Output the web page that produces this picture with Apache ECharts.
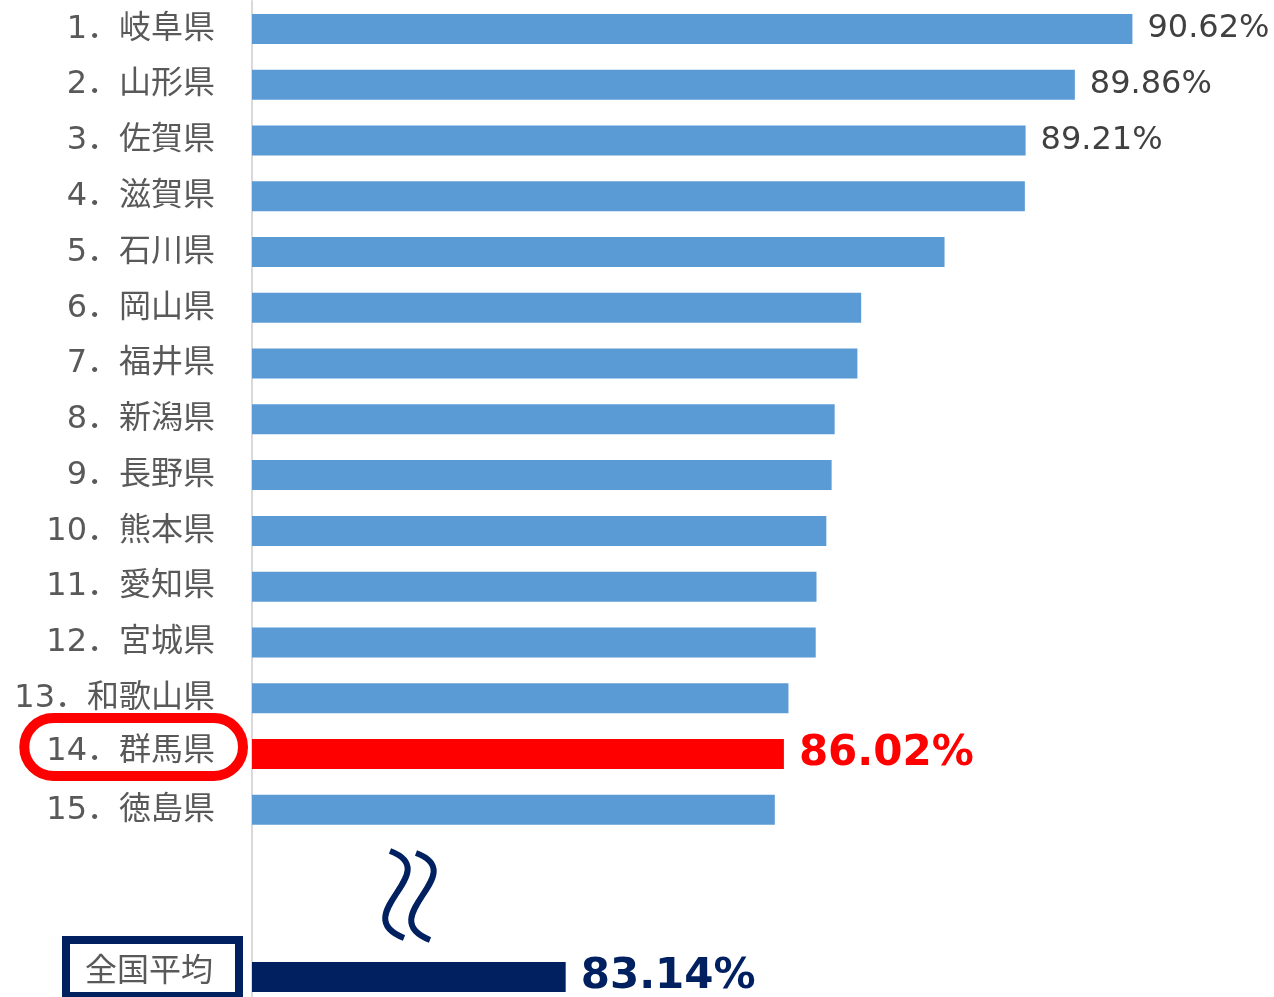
<!DOCTYPE html>
<html>
<head>
<meta charset="utf-8">
<script src="https://cdn.jsdelivr.net/npm/echarts@6/dist/echarts.min.js"></script>
<style>
  html, body { margin: 0; padding: 0; background: #fff; }
  #main { width: 1274px; height: 997px; }
</style>
</head>
<body>
<div id="main"></div>
<script>
// 都道府県（上位15位）と全国平均
const categories = [
  "1．岐阜県", "2．山形県", "3．佐賀県", "4．滋賀県", "5．石川県",
  "6．岡山県", "7．福井県", "8．新潟県", "9．長野県", "10．熊本県",
  "11．愛知県", "12．宮城県", "13．和歌山県", "14．群馬県", "15．徳島県",
  "", " ", "全国平均"
];
// 割合（%）、空行は null
const rates = [
  90.62, 89.86, 89.21, 89.20, 88.14,
  87.04, 86.99, 86.69, 86.65, 86.58,
  86.45, 86.44, 86.08, 86.02, 85.90,
  null, null, 83.14
];

const PREF_INDEX = 13;   // 群馬県
const AVG_INDEX = 17;    // 全国平均
const TOP_LABELS = 3;    // 数値を表示する上位件数

const FONT = "'DejaVu Sans', 'Noto Sans CJK JP', sans-serif";
const BLUE = "#5B9BD5";
const RED = "#FF0000";
const NAVY = "#002060";

const seriesData = rates.map((v, i) => {
  if (v === null) return "-";
  const item = { value: v };
  if (i === PREF_INDEX) {
    item.itemStyle = { color: RED };
    item.label = { show: true, color: RED, fontSize: 42, fontWeight: "bold" };
  } else if (i === AVG_INDEX) {
    item.itemStyle = { color: NAVY };
    item.label = { show: true, color: NAVY, fontSize: 42, fontWeight: "bold" };
  } else if (i < TOP_LABELS) {
    item.label = { show: true, color: "#404040", fontSize: 32 };
  }
  return item;
});

var chart = echarts.init(document.getElementById("main"));
var option = {
  animation: false,
  grid: {
    left: 252,
    top: 1,
    width: 985,
    height: 1004,
    containLabel: false,
    outerBoundsMode: "none",
  },
  xAxis: {
    type: "value",
    min: 79,
    max: 92,
    show: false,
    splitLine: { show: false },
  },
  yAxis: {
    type: "category",
    inverse: true,
    data: categories,
    axisTick: { show: false },
    axisLine: { show: true, lineStyle: { color: "#d9d9d9", width: 2 } },
    axisLabel: {
      interval: 0,
      margin: 3,
      fontFamily: FONT,
      fontSize: 32,
      color: "#595959",
      formatter: (value, index) => {
        if (!value.trim()) return "";
        if (index === PREF_INDEX) return "{r|" + value + "}{sp1| }";
        if (index === AVG_INDEX) return "{b|" + value + "}{sp2| }";
        return "{n|" + value + "}";
      },
      rich: {
        n: {
          fontFamily: FONT, fontSize: 32, color: "#595959", lineHeight: 34,
          padding: [1, 34, 0, 0],
        },
        r: {
          fontFamily: FONT, fontSize: 32, color: "#595959", lineHeight: 34,
          padding: [18, 28, 8, 22],
          borderColor: RED, borderWidth: 10, borderRadius: 30,
          verticalAlign: "top",
        },
        sp1: { width: 6, height: 72, fontSize: 10 },
        b: {
          fontFamily: FONT, fontSize: 32, color: "#595959", lineHeight: 34,
          padding: [17, 26, 7, 19],
          borderColor: NAVY, borderWidth: 8,
          verticalAlign: "top",
        },
        sp2: { width: 10, height: 74, fontSize: 10 },
      },
    },
  },
  series: [
    {
      type: "bar",
      data: seriesData,
      barWidth: 30,
      itemStyle: { color: BLUE },
      label: {
        show: false,
        position: "right",
        distance: 15,
        fontFamily: FONT,
        formatter: p => p.value.toFixed(2) + "%",
      },
    },
  ],
  // 省略記号（≀≀）
  graphic: [
    {
      type: "bezierCurve",
      shape: { x1: 390, y1: 851, cpx1: 446, cpy1: 872, cpx2: 346, cpy2: 915, x2: 404, y2: 938 },
      style: { stroke: NAVY, lineWidth: 6, fill: null },
    },
    {
      type: "bezierCurve",
      shape: { x1: 416, y1: 853, cpx1: 472, cpy1: 874, cpx2: 372, cpy2: 917, x2: 430, y2: 940 },
      style: { stroke: NAVY, lineWidth: 6, fill: null },
    },
  ],
};
option && chart.setOption(option);
</script>
</body>
</html>
